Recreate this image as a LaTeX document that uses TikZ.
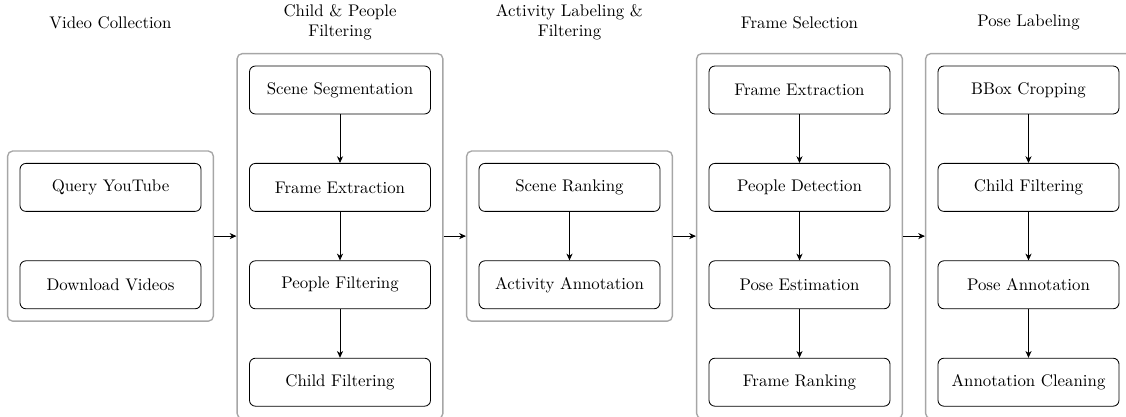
\documentclass[tikz,border=0pt]{standalone}
\usetikzlibrary{arrows.meta,fit}
\begin{document}
\begin{tikzpicture}[x=0.594pt,y=-0.594pt,
  stepbox/.style={draw=black, rounded corners=3.5pt, minimum width=107.5pt, minimum height=28.5pt, inner sep=0pt, line width=0.5pt},
  group/.style={draw=black!35, rounded corners=3pt, inner sep=7.1pt, line width=0.8pt},
  title/.style={align=center, font=\normalsize},
  flow/.style={-{Stealth[length=4pt,width=3.6pt,inset=1.2pt]}, line width=0.5pt}]
\useasboundingbox (0,0) rectangle (1126,416);
\clip (0,0) rectangle (1126,416);
% column 1
\node[title] (t1) at (110.5,22.5) {Video Collection};
\node[stepbox] (a1) at (110.5,187.4) {Query YouTube};
\node[stepbox] (a2) at (110.5,284.8) {Download Videos};
\node[group, fit=(a1)(a2)] (g1) {};
% column 2
\node[title] (t2) at (340,22.5) {Child \& People\\Filtering};
\node[stepbox] (b1) at (340,90) {Scene Segmentation};
\node[stepbox] (b2) at (340,187.4) {Frame Extraction};
\node[stepbox] (b3) at (340,284.8) {People Filtering};
\node[stepbox] (b4) at (340,382.2) {Child Filtering};
\node[group, fit=(b1)(b4)] (g2) {};
% column 3
\node[title] (t3) at (569.5,22.5) {Activity Labeling \&\\Filtering};
\node[stepbox] (c1) at (569.5,187.4) {Scene Ranking};
\node[stepbox] (c2) at (569.5,284.8) {Activity Annotation};
\node[group, fit=(c1)(c2)] (g3) {};
% column 4
\node[title] (t4) at (799.5,22.5) {Frame Selection};
\node[stepbox] (d1) at (799.5,90) {Frame Extraction};
\node[stepbox] (d2) at (799.5,187.4) {People Detection};
\node[stepbox] (d3) at (799.5,284.8) {Pose Estimation};
\node[stepbox] (d4) at (799.5,382.2) {Frame Ranking};
\node[group, fit=(d1)(d4)] (g4) {};
% column 5
\node[title] (t5) at (1028.5,22.5) {Pose Labeling};
\node[stepbox] (e1) at (1028.5,90) {BBox Cropping};
\node[stepbox] (e2) at (1028.5,187.4) {Child Filtering};
\node[stepbox] (e3) at (1028.5,284.8) {Pose Annotation};
\node[stepbox] (e4) at (1028.5,382.2) {Annotation Cleaning};
\node[group, fit=(e1)(e4)] (g5) {};
% inner arrows
\draw[flow] (b1) -- (b2);
\draw[flow] (b2) -- (b3);
\draw[flow] (b3) -- (b4);
\draw[flow] (c1) -- (c2);
\draw[flow] (d1) -- (d2);
\draw[flow] (d2) -- (d3);
\draw[flow] (d3) -- (d4);
\draw[flow] (e1) -- (e2);
\draw[flow] (e2) -- (e3);
\draw[flow] (e3) -- (e4);
% group arrows
\draw[flow] (g1.east) -- (g1.east -| g2.west);
\draw[flow] (g3.west -| g2.east) -- (g3.west);
\draw[flow] (g3.east) -- (g3.east -| g4.west);
\draw[flow] (g4.east) -- (g5.west);
\end{tikzpicture}
\end{document}
